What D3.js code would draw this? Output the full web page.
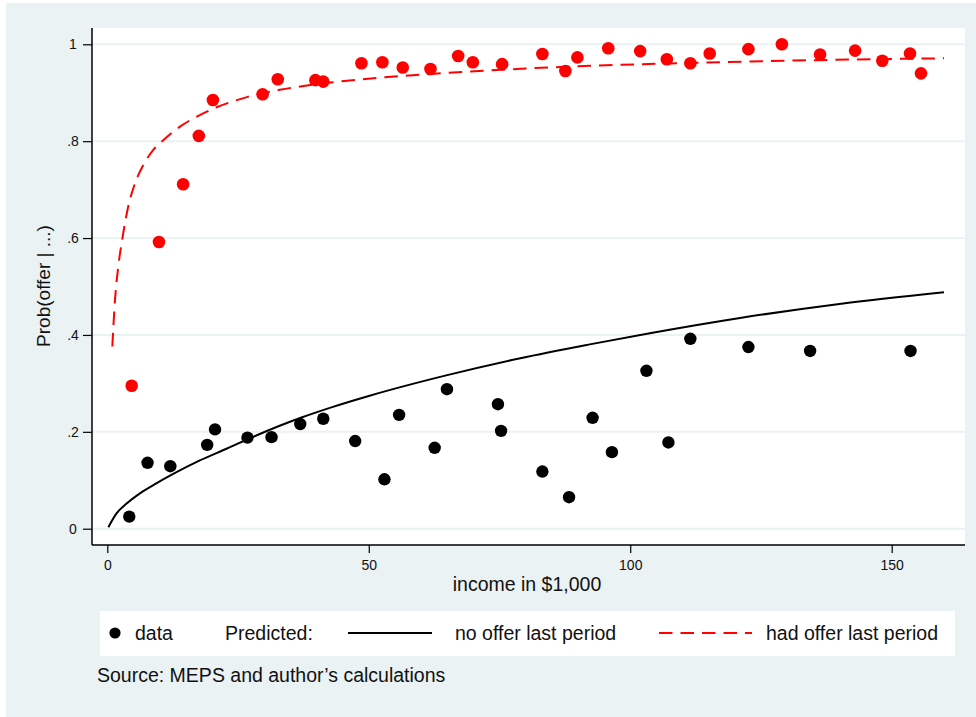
<!DOCTYPE html>
<html>
<head>
<meta charset="utf-8">
<script src="https://cdn.jsdelivr.net/npm/d3@7"></script>
<style>
  html, body { margin: 0; padding: 0; background: #ffffff; }
  svg { display: block; }
  text { font-family: "Liberation Sans", Arial, Helvetica, sans-serif; fill: #111; }
</style>
</head>
<body>
<svg id="chart" width="976" height="717"></svg>
<script>
// Observed offer rates, by income (in $1,000)
const noOfferIncome = [4.2, 7.7, 12.05, 19.1, 20.6, 26.8, 31.4, 36.9, 41.3, 47.4, 53.0, 55.8, 62.6, 64.95,
  74.7, 75.3, 83.2, 88.3, 92.8, 96.5, 103.1, 107.3, 111.5, 122.6, 134.4, 153.6];
const noOfferRate = [0.025, 0.136, 0.129, 0.173, 0.205, 0.188, 0.189, 0.216, 0.227, 0.181, 0.102, 0.235, 0.167, 0.288,
  0.257, 0.202, 0.118, 0.065, 0.229, 0.158, 0.326, 0.178, 0.392, 0.375, 0.367, 0.367];

const hadOfferIncome = [4.66, 9.88, 14.5, 17.5, 20.2, 29.7, 32.6, 39.8, 41.3, 48.6, 52.6, 56.5, 61.8, 67.1, 69.9,
  75.5, 83.2, 87.6, 89.9, 95.8, 101.9, 107.0, 111.5, 115.2, 122.6, 129.0, 136.3, 143.0, 148.2, 153.5, 155.6];
const hadOfferRate = [0.295, 0.592, 0.711, 0.811, 0.885, 0.897, 0.928, 0.926, 0.923, 0.961, 0.963, 0.952, 0.949, 0.976, 0.963,
  0.959, 0.980, 0.945, 0.973, 0.992, 0.986, 0.969, 0.961, 0.981, 0.990, 1.000, 0.979, 0.987, 0.966, 0.981, 0.940];

// Predicted probabilities
const predNoIncome = [0.2, 1.8, 3.7, 6.25, 9.45, 12.6, 17.7, 22.8, 28.6, 37, 43, 50, 65, 79, 92, 104, 121, 140, 160];
const predNoProb   = [0.003, 0.032, 0.052, 0.073, 0.094, 0.113, 0.141, 0.165, 0.193, 0.229, 0.251, 0.274, 0.317, 0.352, 0.380, 0.404, 0.435, 0.464, 0.488];

const predHadIncome = [0.96, 1.47, 2.1, 2.94, 4.0, 5.3, 6.9, 8.8, 10.7, 13.9, 17.7, 20.9, 26.7, 33, 42.6, 52, 65, 80, 113, 139, 160];
const predHadProb   = [0.376, 0.472, 0.541, 0.603, 0.665, 0.713, 0.751, 0.782, 0.802, 0.830, 0.854, 0.870, 0.891, 0.906, 0.921, 0.931, 0.941, 0.950, 0.962, 0.968, 0.971];

// Axis ticks
const xTicks = [0, 50, 100, 150];
const yTicks = [0, 0.2, 0.4, 0.6, 0.8, 1];
const yTickLabels = ["0", ".2", ".4", ".6", ".8", "1"];

// Text
const xTitle = "income in $1,000";
const yTitle = "Prob(offer | ...)";
const legendLabels = ["data", "Predicted:", "no offer last period", "had offer last period"];
const noteText = "Source: MEPS and author\u2019s calculations";

const BG = "#eaf2f3";
const RED = "#ff0000";

const svg = d3.select("#chart");

// outer graph region
svg.append("rect").attr("x", 6).attr("y", 3).attr("width", 970).attr("height", 714).attr("fill", BG);

// plot region
const plotL = 92, plotR = 965, plotT = 28, plotB = 545;
svg.append("rect").attr("x", plotL).attr("y", plotT).attr("width", plotR - plotL).attr("height", plotB - plotT).attr("fill", "#fff");

const x = d3.scaleLinear().domain([0, 150]).range([107.3, 891.7]);
const y = d3.scaleLinear().domain([0, 1]).range([528.7, 44.3]);

// gridlines
svg.append("g").selectAll("line").data(yTicks).join("line")
  .attr("x1", plotL).attr("x2", plotR)
  .attr("y1", d => y(d)).attr("y2", d => y(d))
  .attr("stroke", BG).attr("stroke-width", 2);

// axes
const yAxis = d3.axisLeft(y).tickValues(yTicks).tickSize(9).tickPadding(4)
  .tickFormat((d, i) => yTickLabels[i]);
const gy = svg.append("g").attr("transform", `translate(${plotL},0)`).call(yAxis);
gy.select(".domain").remove();
gy.selectAll(".tick line").attr("stroke", "#000").attr("stroke-width", 1.2);
gy.selectAll(".tick text").attr("x", 73 - plotL).attr("text-anchor", "middle")
  .style("font-size", "14px").style("font-family", "Liberation Sans, Arial, sans-serif").attr("fill", "#111");

const xAxis = d3.axisBottom(x).tickValues(xTicks).tickSize(8).tickFormat(d3.format("d"));
const gx = svg.append("g").attr("transform", `translate(0,${plotB})`).call(xAxis);
gx.select(".domain").remove();
gx.selectAll(".tick line").attr("stroke", "#000").attr("stroke-width", 1.2);
gx.selectAll(".tick text").attr("y", 25).attr("dy", null)
  .style("font-size", "14px").style("font-family", "Liberation Sans, Arial, sans-serif").attr("fill", "#111");

svg.append("line").attr("x1", plotL).attr("x2", plotL).attr("y1", plotT).attr("y2", plotB)
  .attr("stroke", "#000").attr("stroke-width", 1.5);
svg.append("line").attr("x1", plotL).attr("x2", plotR).attr("y1", plotB).attr("y2", plotB)
  .attr("stroke", "#000").attr("stroke-width", 1.5);

// axis titles
svg.append("text").attr("x", 527).attr("y", 591).attr("text-anchor", "middle")
  .style("font-size", "19.5px").text(xTitle);
svg.append("text").attr("transform", "translate(50,286) rotate(-90)").attr("text-anchor", "middle")
  .style("font-size", "19px").text(yTitle);

// observed points
const noPts = noOfferIncome.map((v, i) => [v, noOfferRate[i]]);
const hadPts = hadOfferIncome.map((v, i) => [v, hadOfferRate[i]]);

svg.append("g").selectAll("circle").data(noPts).join("circle")
  .attr("cx", d => x(d[0])).attr("cy", d => y(d[1])).attr("r", 6.2).attr("fill", "#000");
svg.append("g").selectAll("circle").data(hadPts).join("circle")
  .attr("cx", d => x(d[0])).attr("cy", d => y(d[1])).attr("r", 6.3).attr("fill", RED);

// predicted curves
const line = d3.line().x(d => x(d[0])).y(d => y(d[1])).curve(d3.curveMonotoneX);
svg.append("path").datum(predNoIncome.map((v, i) => [v, predNoProb[i]]))
  .attr("d", line).attr("fill", "none").attr("stroke", "#000").attr("stroke-width", 2);
svg.append("path").datum(predHadIncome.map((v, i) => [v, predHadProb[i]]))
  .attr("d", line).attr("fill", "none").attr("stroke", RED).attr("stroke-width", 2)
  .attr("stroke-dasharray", "13.5,8");

// legend
const lg = svg.append("g");
lg.append("rect").attr("x", 100).attr("y", 611).attr("width", 855).attr("height", 45).attr("fill", "#fff");
const ly = 633, lb = 640;
lg.append("circle").attr("cx", 115).attr("cy", ly).attr("r", 5.6).attr("fill", "#000");
lg.append("text").attr("x", 135).attr("y", lb).style("font-size", "19.5px").text(legendLabels[0]);
lg.append("text").attr("x", 225).attr("y", lb).style("font-size", "19.5px").text(legendLabels[1]);
lg.append("line").attr("x1", 348).attr("x2", 432).attr("y1", ly).attr("y2", ly)
  .attr("stroke", "#000").attr("stroke-width", 2);
lg.append("text").attr("x", 455).attr("y", lb).style("font-size", "19.5px").text(legendLabels[2]);
lg.append("line").attr("x1", 659).attr("x2", 752).attr("y1", ly).attr("y2", ly)
  .attr("stroke", RED).attr("stroke-width", 2).attr("stroke-dasharray", "13.5,8");
lg.append("text").attr("x", 766).attr("y", lb).style("font-size", "19.5px").text(legendLabels[3]);

// note
svg.append("text").attr("x", 97).attr("y", 682).style("font-size", "19.5px").text(noteText);
</script>
</body>
</html>
